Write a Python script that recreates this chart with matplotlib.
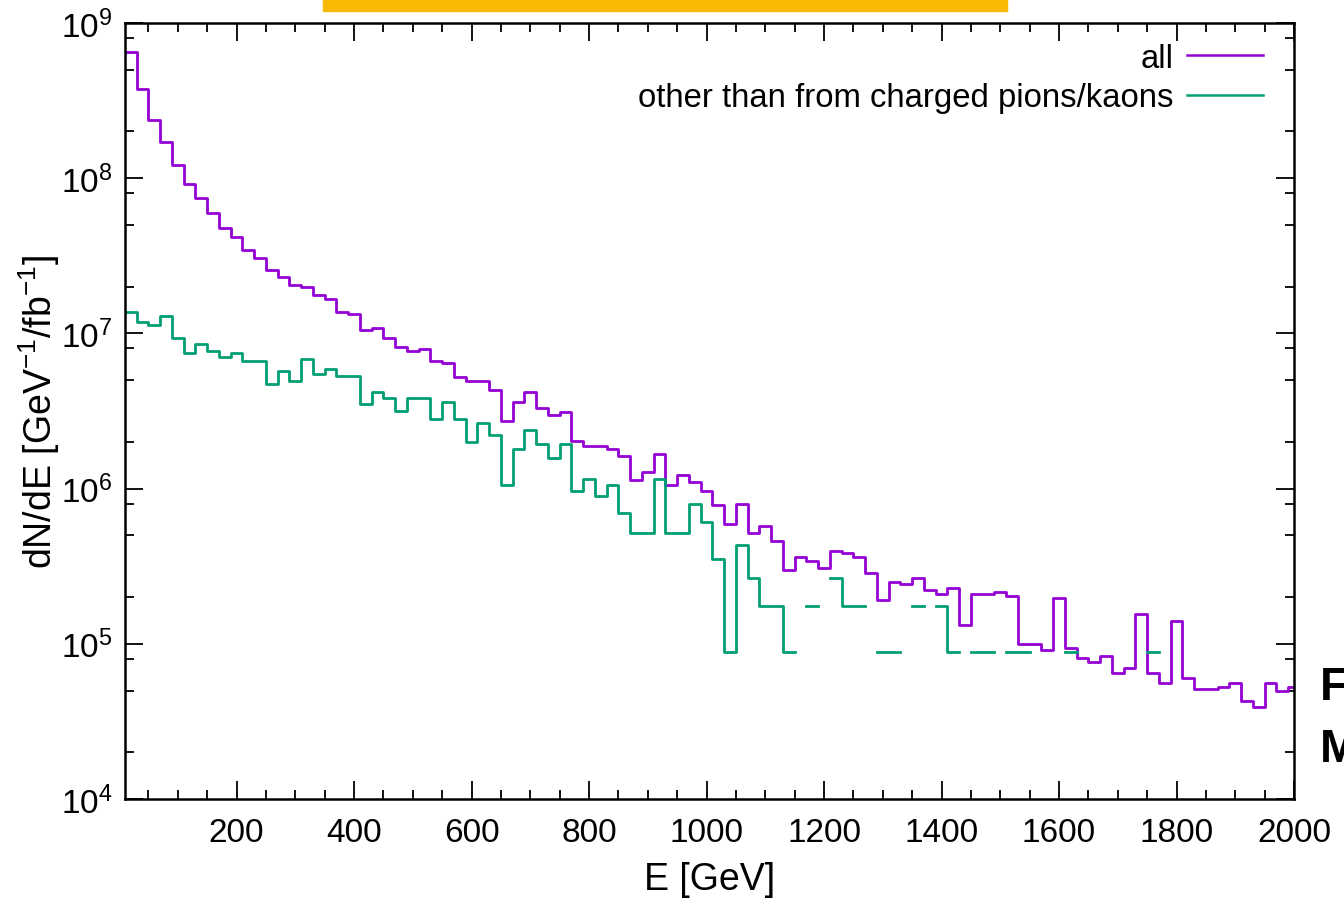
import numpy as np
import matplotlib
matplotlib.use("Agg")
import matplotlib.pyplot as plt
from matplotlib.ticker import FixedLocator, LogLocator, NullFormatter, MultipleLocator
from matplotlib.patches import Rectangle

plt.rcParams['font.family'] = ['Liberation Sans', 'DejaVu Sans']
plt.rcParams['mathtext.fontset'] = 'custom'
plt.rcParams['mathtext.rm'] = 'Liberation Sans'
plt.rcParams['mathtext.default'] = 'regular'

# Energy binning: 20 GeV bins, first bin 10-30 GeV
bin_edges = np.arange(10, 2011, 20)

# dN/dE per bin [GeV^-1 fb^-1], all leptons
all_counts = [
    6.5e8, 3.75e8, 2.38e8, 1.70e8, 1.21e8, 9.2e7, 7.4e7, 6.0e7, 4.8e7, 4.15e7,
    3.45e7, 3.05e7, 2.55e7, 2.32e7, 2.04e7, 1.99e7, 1.76e7, 1.66e7, 1.38e7, 1.34e7,
    1.05e7, 1.08e7, 9.3e6, 8.2e6, 7.75e6, 7.9e6, 6.6e6, 6.4e6, 5.2e6, 4.9e6,
    4.9e6, 4.3e6, 2.73e6, 3.6e6, 4.2e6, 3.3e6, 3.0e6, 3.1e6, 2.04e6, 1.89e6,
    1.88e6, 1.79e6, 1.62e6, 1.13e6, 1.28e6, 1.66e6, 1.06e6, 1.23e6, 1.10e6, 9.7e5,
    7.8e5, 5.9e5, 8.0e5, 5.2e5, 5.7e5, 4.6e5, 3.0e5, 3.6e5, 3.4e5, 3.1e5,
    3.95e5, 3.85e5, 3.65e5, 2.85e5, 1.91e5, 2.52e5, 2.44e5, 2.67e5, 2.23e5, 2.09e5,
    2.30e5, 1.32e5, 2.08e5, 2.08e5, 2.15e5, 2.02e5, 1.0e5, 1.0e5, 9.15e4, 1.96e5,
    9.45e4, 8.1e4, 7.6e4, 8.3e4, 6.5e4, 6.95e4, 1.55e5, 6.5e4, 5.6e4, 1.41e5,
    6.0e4, 5.13e4, 5.13e4, 5.3e4, 5.6e4, 4.26e4, 3.9e4, 5.6e4, 4.95e4, 5.25e4,
]

# dN/dE per bin for leptons not coming from charged pion/kaon decays
other_counts = [
    1.38e7, 1.18e7, 1.14e7, 1.30e7, 9.3e6, 7.5e6, 8.5e6, 7.7e6, 7.0e6, 7.5e6,
    6.6e6, 6.6e6, 4.75e6, 5.7e6, 4.9e6, 6.8e6, 5.5e6, 5.9e6, 5.35e6, 5.35e6,
    3.5e6, 4.2e6, 3.85e6, 3.15e6, 3.85e6, 3.85e6, 2.8e6, 3.6e6, 2.8e6, 2.0e6,
    2.65e6, 2.2e6, 1.06e6, 1.79e6, 2.4e6, 1.95e6, 1.57e6, 1.95e6, 9.6e5, 1.16e6,
    8.9e5, 1.06e6, 7.0e5, 5.2e5, 5.2e5, 1.16e6, 5.2e5, 5.2e5, 8.0e5, 6.1e5,
    3.5e5, 8.9e4, 4.35e5, 2.67e5, 1.76e5, 1.76e5, 8.9e4, 0, 1.76e5, 0,
    2.67e5, 1.76e5, 1.76e5, 0, 8.9e4, 8.9e4, 0, 1.76e5, 0, 1.76e5,
    8.9e4, 0, 8.9e4, 8.9e4, 0, 8.9e4, 8.9e4, 0, 0, 0,
    8.9e4, 0, 0, 0, 0, 0, 0, 8.9e4, 0, 0,
    0, 0, 0, 0, 0, 0, 0, 0, 0, 0,
]

series_labels = ["all", "other than from charged pions/kaons"]
series_colors = ["#9400D3", "#009E73"]
x_ticks = [200, 400, 600, 800, 1000, 1200, 1400, 1600, 1800, 2000]
y_ticks = [1e4, 1e5, 1e6, 1e7, 1e8, 1e9]

W, H = 1344, 903
fig = plt.figure(figsize=(W / 100, H / 100), dpi=100)
ax = fig.add_axes([125 / W, 1 - 800 / H, (1294 - 125) / W, (800 - 24) / H])


def step_line(values):
    v = np.asarray(values, dtype=float)
    v = np.where(v > 0, v, np.nan)
    return bin_edges, np.append(v, v[-1])


for vals, lab, col in zip([all_counts, other_counts], series_labels, series_colors):
    xs, ys = step_line(vals)
    ax.plot(xs, ys, drawstyle='steps-post', color=col, lw=2.0, label=lab)

ax.set_yscale('log')
ax.set_xlim(10, 2000)
ax.set_ylim(1e4, 1e9)

ax.xaxis.set_major_locator(FixedLocator(x_ticks))
ax.xaxis.set_minor_locator(MultipleLocator(50))
ax.yaxis.set_major_locator(FixedLocator(y_ticks))
ax.yaxis.set_minor_locator(LogLocator(base=10, subs=[2, 5, 8]))
ax.yaxis.set_minor_formatter(NullFormatter())
ax.set_yticklabels([r'$10^{%d}$' % int(np.log10(t)) for t in y_ticks])

ax.tick_params(which='both', direction='in', top=True, right=True, width=1.3, color='black')
ax.tick_params(which='major', length=13)
ax.tick_params(which='minor', length=6.5)
ax.tick_params(axis='x', which='major', labelsize=24, pad=13)
ax.tick_params(axis='y', which='major', labelsize=24, pad=9)
for s in ax.spines.values():
    s.set_linewidth(1.8)

ax.set_xlabel("E [GeV]", fontsize=27, labelpad=9)
ax.set_ylabel(r"dN/dE [GeV$^{-1}$/fb$^{-1}$]", fontsize=27, labelpad=-1)

legend_anchor = ((1263 - 125) / (1294 - 125), 1 - (44 - 24) / (800 - 24))
leg = ax.legend(loc='upper right', bbox_to_anchor=legend_anchor, frameon=False,
                markerfirst=False, fontsize=23.7, handlelength=2.3, handletextpad=0.42,
                labelspacing=0.25, borderaxespad=0.0, borderpad=0.0)
for line in leg.get_lines():
    line.set_linewidth(1.8)

# Header bar and side annotation
fig.patches.append(Rectangle((323 / W, 1 - 12 / H), (1007 - 323) / W, 12 / H,
                             transform=fig.transFigure, color='#F8B900', zorder=5))
fig.text(1320 / W, 1 - 688 / H, "F", fontsize=33, fontweight='bold', ha='left', va='center')
fig.text(1320 / W, 1 - 750 / H, "M", fontsize=33, fontweight='bold', ha='left', va='center')

fig.savefig("out.png", dpi=100)
